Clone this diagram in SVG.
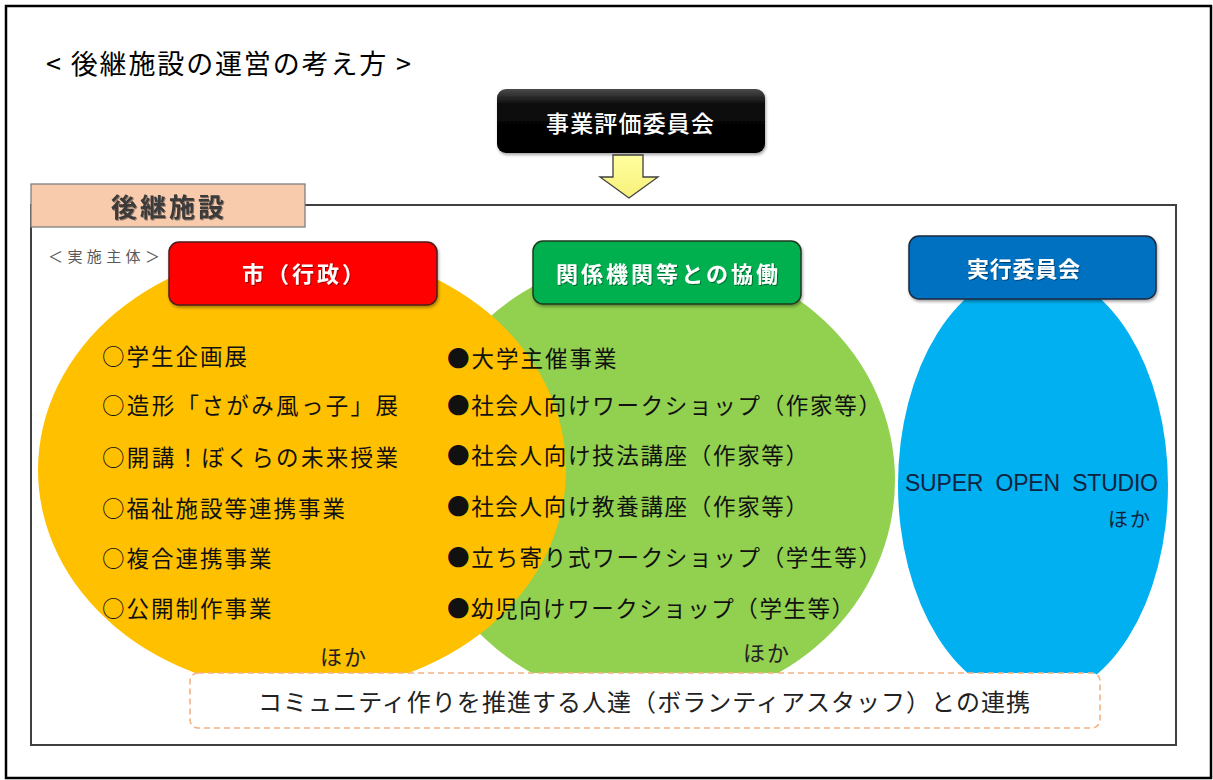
<svg xmlns="http://www.w3.org/2000/svg" width="1213" height="780" viewBox="0 0 1213 780">
<defs>
<style>
.jp{font-family:"Noto Sans CJK JP","Noto Sans",sans-serif;}
.lst{font-family:"Noto Sans CJK JP",sans-serif;font-size:22.5px;fill:#111;letter-spacing:2px;dominant-baseline:central;}
.lbl{font-family:"Noto Sans CJK JP",sans-serif;font-size:22px;font-weight:bold;fill:#fff;dominant-baseline:central;}
.box{stroke-width:1.5;}
</style>
<linearGradient id="blk" x1="0" y1="0" x2="0" y2="1">
<stop offset="0" stop-color="#4a4a4a"/>
<stop offset="0.25" stop-color="#0a0a0a"/>
<stop offset="1" stop-color="#000"/>
</linearGradient>
<linearGradient id="ylw" x1="0" y1="0" x2="0" y2="1">
<stop offset="0" stop-color="#FFFF9E"/>
<stop offset="1" stop-color="#F7F07A"/>
</linearGradient>
<filter id="sh" x="-10%" y="-10%" width="120%" height="130%">
<feDropShadow dx="1" dy="2" stdDeviation="1.5" flood-color="#000" flood-opacity="0.35"/>
</filter>
<filter id="tsh" x="-10%" y="-20%" width="120%" height="140%">
<feDropShadow dx="1" dy="1" stdDeviation="0.6" flood-color="#000" flood-opacity="0.4"/>
</filter>
</defs>
<rect x="0" y="0" width="1213" height="780" fill="#fff"/>
<rect x="6" y="6" width="1205" height="772" fill="none" stroke="#000" stroke-width="2.5"/>

<text id="title" class="jp" x="46" y="62" font-size="27" fill="#000" dominant-baseline="central" textLength="365" lengthAdjust="spacing">&lt; 後継施設の運営の考え方 &gt;</text>

<g id="hyoka">
<rect x="497" y="89" width="268" height="64" rx="9" fill="url(#blk)" filter="url(#sh)"/>
<text class="jp" x="546" y="122" font-size="23" font-weight="500" fill="#fff" dominant-baseline="central" textLength="168" lengthAdjust="spacing">事業評価委員会</text>
</g>

<g id="connectors">
<polygon points="613,155 643,155 643,177 658,177 629,198 600,177 613,177" fill="url(#ylw)" stroke="#404040" stroke-width="1.3" stroke-linejoin="miter"/>
</g>

<g id="facility">
<rect x="31" y="205" width="1145" height="540" fill="#fff" stroke="#404040" stroke-width="2"/>
</g>

<g id="green-area">
<ellipse cx="655" cy="480" rx="240" ry="225" fill="#92D050"/>
</g>
<g id="orange-area">
<ellipse cx="302" cy="470" rx="264" ry="222" fill="#FFC000"/>
</g>
<g id="blue-area">
<ellipse cx="1033" cy="485" rx="135" ry="215" fill="#00B0F0"/>
</g>

<g id="tab">
<rect x="31" y="184" width="274" height="43" fill="#F8CBAD" stroke="#7f7f7f" stroke-width="1.3"/>
<text class="jp" x="111" y="205" font-size="26" font-weight="bold" fill="#3a3a3a" dominant-baseline="central" textLength="113" lengthAdjust="spacing" filter="url(#tsh)">後継施設</text>
</g>

<text id="jisshi" class="jp" x="48" y="255" font-size="15" fill="#595959" dominant-baseline="central" textLength="112" lengthAdjust="spacing">＜実施主体＞</text>

<g id="city">
<rect class="box" x="169" y="242" width="268" height="63" rx="10" fill="#FF0000" stroke="#4d1a1a" filter="url(#sh)"/>
<text class="lbl" x="242" y="272" textLength="122" lengthAdjust="spacing" filter="url(#tsh)">市（行政）</text>
</g>

<g id="kyodo">
<rect class="box" x="533" y="241" width="268" height="63" rx="10" fill="#00B050" stroke="#1f3a1f" filter="url(#sh)"/>
<text class="lbl" x="556" y="272" textLength="222" lengthAdjust="spacing" filter="url(#tsh)">関係機関等との協働</text>
</g>

<g id="jikko">
<rect class="box" x="909" y="236" width="247" height="63" rx="10" fill="#0070C0" stroke="#1a2a40" filter="url(#sh)"/>
<text class="lbl" x="967" y="267" textLength="113" lengthAdjust="spacing" filter="url(#tsh)">実行委員会</text>
</g>

<g id="city-list">
<text class="lst" x="102" y="355">○学生企画展</text>
<text class="lst" x="102" y="404" textLength="298" lengthAdjust="spacing">○造形「さがみ風っ子」展</text>
<text class="lst" x="102" y="456" textLength="298" lengthAdjust="spacing">○開講！ぼくらの未来授業</text>
<text class="lst" x="102" y="507">○福祉施設等連携事業</text>
<text class="lst" x="102" y="557">○複合連携事業</text>
<text class="lst" x="102" y="607">○公開制作事業</text>
<text class="jp" x="320" y="655" font-size="22" fill="#222" dominant-baseline="central" letter-spacing="2">ほか</text>
</g>

<g id="kyodo-list">
<text class="lst" x="447" y="357">●大学主催事業</text>
<text class="lst" x="447" y="404" textLength="436" lengthAdjust="spacing">●社会人向けワークショップ（作家等）</text>
<text class="lst" x="447" y="454" textLength="363" lengthAdjust="spacing">●社会人向け技法講座（作家等）</text>
<text class="lst" x="447" y="505" textLength="363" lengthAdjust="spacing">●社会人向け教養講座（作家等）</text>
<text class="lst" x="447" y="556" textLength="436" lengthAdjust="spacing">●立ち寄り式ワークショップ（学生等）</text>
<text class="lst" x="447" y="607" textLength="409" lengthAdjust="spacing">●幼児向けワークショップ（学生等）</text>
<text class="jp" x="743" y="651" font-size="22" fill="#222" dominant-baseline="central" letter-spacing="2">ほか</text>
</g>

<g id="jikko-list">
<text x="905" y="483" font-family="'Liberation Sans',Arial,sans-serif" font-size="23" fill="#10233f" dominant-baseline="central" textLength="253" lengthAdjust="spacing" xml:space="preserve">SUPER  OPEN  STUDIO</text>
<text class="jp" x="1108" y="518" font-size="20" fill="#10233f" dominant-baseline="central" letter-spacing="2">ほか</text>
</g>

<g id="volunteer">
<rect x="190" y="673" width="910" height="55" rx="8" fill="#fff" stroke="#F4B183" stroke-width="1.6" stroke-dasharray="6 4"/>
<text class="jp" x="258" y="700" font-size="24" fill="#222" dominant-baseline="central" textLength="772" lengthAdjust="spacing">コミュニティ作りを推進する人達（ボランティアスタッフ）との連携</text>
</g>
</svg>
